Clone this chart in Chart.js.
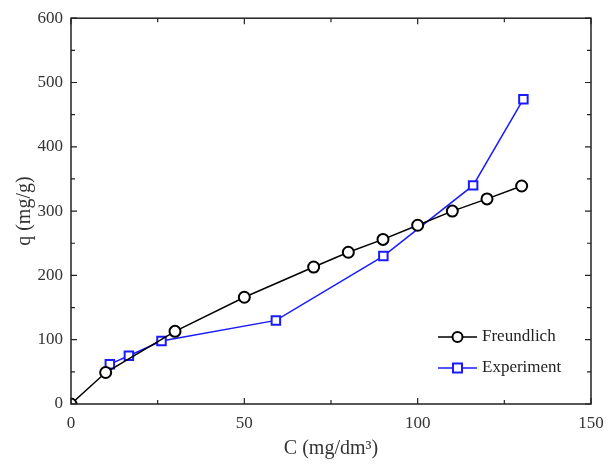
<!DOCTYPE html>
<html><head><meta charset="utf-8">
<script src="https://cdn.jsdelivr.net/npm/chart.js@4/dist/chart.umd.min.js"></script>
<style>html,body{margin:0;padding:0;background:#fff}#wrap{width:614px;height:464px}</style>
</head><body><div id="wrap"><canvas id="c" width="614" height="464"></canvas></div>
<script>
const freundlichC = [0, 10, 30, 50, 70, 80, 90, 100, 110, 120, 130];
const freundlichQ = [0, 49, 113, 166, 213, 236, 256, 278, 300, 319, 339];
const experimentC = [11.2, 16.7, 26.1, 59.1, 90.1, 116, 130.5];
const experimentQ = [62, 75, 98, 130, 230, 340, 474];
const seriesNames = ['Freundlich', 'Experiment'];
const xTicks = [0, 50, 100, 150];
const yTicks = [0, 100, 200, 300, 400, 500, 600];

const FONT = "'Liberation Serif', 'Times New Roman', serif";
const BLUE = '#1a1aff';

const framePlugin = {
  id: 'frame',
  afterDraw(chart) {
    const ctx = chart.ctx, a = chart.chartArea;
    const xs = chart.scales.x, ys = chart.scales.y;
    ctx.save();
    ctx.strokeStyle = '#222';
    ctx.lineWidth = 1.5;
    ctx.strokeRect(a.left, a.top, a.right - a.left, a.bottom - a.top);
    ctx.lineWidth = 1.2;
    ctx.beginPath();
    for (let v = 0; v <= 150; v += 25) {
      const p = xs.getPixelForValue(v);
      const L = (v % 50 === 0) ? 6 : 4;
      ctx.moveTo(p, a.bottom); ctx.lineTo(p, a.bottom - L);
      ctx.moveTo(p, a.top); ctx.lineTo(p, a.top + L);
    }
    for (let v = 0; v <= 600; v += 50) {
      const p = ys.getPixelForValue(v);
      const L = (v % 100 === 0) ? 6 : 4;
      ctx.moveTo(a.left, p); ctx.lineTo(a.left + L, p);
      ctx.moveTo(a.right, p); ctx.lineTo(a.right - L, p);
    }
    ctx.stroke();
    // legend
    const items = [
      {name: seriesNames[0], color: '#000', style: 'circle', y: 337},
      {name: seriesNames[1], color: BLUE, style: 'rect', y: 368}
    ];
    ctx.font = "17px " + FONT;
    ctx.textBaseline = 'middle';
    items.forEach(it => {
      const x0 = 438, x1 = 477, cx = (x0 + x1) / 2;
      ctx.strokeStyle = it.color; ctx.lineWidth = 1.5;
      ctx.beginPath(); ctx.moveTo(x0, it.y); ctx.lineTo(x1, it.y); ctx.stroke();
      ctx.fillStyle = '#fff'; ctx.lineWidth = 2;
      if (it.style === 'circle') {
        ctx.beginPath(); ctx.arc(cx, it.y, 5, 0, Math.PI * 2); ctx.fill(); ctx.stroke();
      } else {
        ctx.fillRect(cx - 4.5, it.y - 4.5, 9, 9); ctx.strokeRect(cx - 4.5, it.y - 4.5, 9, 9);
      }
      ctx.fillStyle = '#222';
      ctx.fillText(it.name, x1 + 5, it.y);
    });
    ctx.restore();
  }
};

new Chart(document.getElementById('c'), {
  type: 'scatter',
  data: {
    datasets: [
      {
        label: seriesNames[0],
        data: freundlichC.map((c, i) => ({x: c, y: freundlichQ[i]})),
        showLine: true, borderColor: '#000', borderWidth: 1.5,
        pointStyle: 'circle', pointRadius: 5.5, pointBorderWidth: 2,
        pointBackgroundColor: '#fff', pointBorderColor: '#000'
      },
      {
        label: seriesNames[1],
        data: experimentC.map((c, i) => ({x: c, y: experimentQ[i]})),
        showLine: true, borderColor: BLUE, borderWidth: 1.5,
        pointStyle: 'rect', pointRadius: 6, pointBorderWidth: 2,
        pointBackgroundColor: '#fff', pointBorderColor: BLUE
      }
    ]
  },
  options: {
    responsive: false, animation: false,
    layout: {padding: {top: 18, right: 23, left: 0, bottom: 0}},
    plugins: {legend: {display: false}, tooltip: {enabled: false}},
    scales: {
      x: {
        type: 'linear', min: 0, max: 150,
        afterBuildTicks: s => { s.ticks = xTicks.map(v => ({value: v})); },
        afterFit: s => { s.height = 60; },
        grid: {display: false, drawTicks: false},
        border: {display: false},
        ticks: {color: '#333', font: {family: FONT, size: 17}, padding: 9, maxRotation: 0},
        title: {display: true, text: 'C (mg/dm³)', color: '#333', font: {family: FONT, size: 20}, padding: {top: 2, bottom: 3}}
      },
      y: {
        type: 'linear', min: 0, max: 600,
        afterBuildTicks: s => { s.ticks = yTicks.map(v => ({value: v})); },
        afterFit: s => { s.width = 71; },
        grid: {display: false, drawTicks: false},
        border: {display: false},
        ticks: {color: '#333', font: {family: FONT, size: 17}, padding: 8},
        title: {display: true, text: 'q (mg/g)', color: '#333', font: {family: FONT, size: 20}, padding: {top: 13, bottom: 4}}
      }
    }
  },
  plugins: [framePlugin]
});
</script>
</body></html>
